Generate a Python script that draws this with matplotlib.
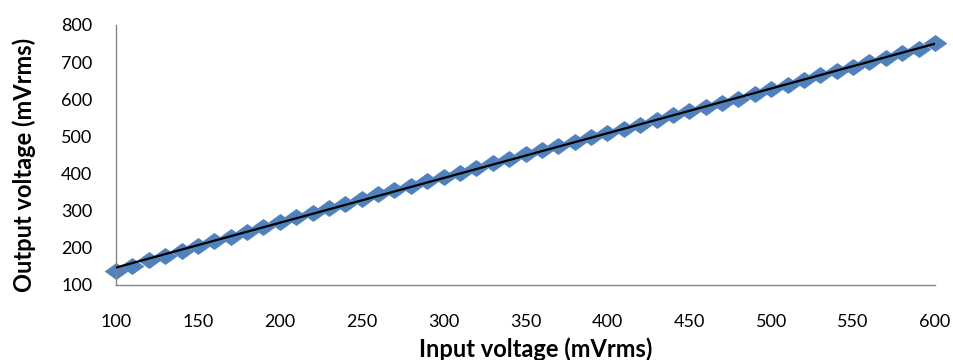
import numpy as np
import matplotlib
matplotlib.use("Agg")
import matplotlib.pyplot as plt
from matplotlib.path import Path

plt.rcParams['font.family'] = ['Lato', 'DejaVu Sans']

# Input amplitude sweep (mVrms) and measured output amplitude (mVrms)
input_mv = [100, 110, 120, 130, 140, 150, 160, 170, 180, 190,
            200, 210, 220, 230, 240, 250, 260, 270, 280, 290,
            300, 310, 320, 330, 340, 350, 360, 370, 380, 390,
            400, 410, 420, 430, 440, 450, 460, 470, 480, 490,
            500, 510, 520, 530, 540, 550, 560, 570, 580, 590,
            600]
output_mv = [136, 151, 165, 178, 191, 204, 217, 229, 242, 255,
             268, 281, 294, 306, 318, 331, 343, 355, 367, 379,
             390, 402, 415, 427, 439, 451, 462, 474, 485, 497,
             508, 519, 531, 543, 556, 567, 579, 590, 601, 614,
             627, 639, 651, 664, 676, 688, 700, 711, 725, 736,
             751]

x_ticks = [100, 150, 200, 250, 300, 350, 400, 450, 500, 550, 600]
y_ticks = [100, 200, 300, 400, 500, 600, 700, 800]

# Slightly flattened diamond marker
diamond = Path([(-1.0, 0.0), (0.0, 0.72), (1.0, 0.0), (0.0, -0.72), (-1.0, 0.0)],
               [Path.MOVETO, Path.LINETO, Path.LINETO, Path.LINETO, Path.CLOSEPOLY])

fig = plt.figure(figsize=(9.54, 3.60), dpi=100)
ax = fig.add_axes([0.1216, 0.2097, 0.8585, 0.7209])

ax.plot(input_mv, output_mv, linestyle='none', marker=diamond, markersize=16,
        markerfacecolor='#4F81BD', markeredgecolor='#4F81BD', markeredgewidth=0.6,
        zorder=2, clip_on=False)

# Linear trend line fitted to the measurements
slope, intercept = np.polyfit(input_mv, output_mv, 1)
xs = np.array([input_mv[0], input_mv[-1]])
ax.plot(xs, slope * xs + intercept, color='black', linewidth=1.6, zorder=3)

ax.set_xlim(100, 600)
ax.set_ylim(100, 800)
ax.set_xticks(x_ticks)
ax.set_yticks(y_ticks)
ax.tick_params(axis='both', length=0, labelsize=13, colors='black')
ax.tick_params(axis='x', pad=21)
ax.tick_params(axis='y', pad=17)

for side in ('top', 'right'):
    ax.spines[side].set_visible(False)
for side in ('left', 'bottom'):
    ax.spines[side].set_color('#868686')
    ax.spines[side].set_linewidth(1.0)

ax.set_xlabel('Input voltage (mVrms)', fontsize=17, fontweight='bold')
ax.set_ylabel('Output voltage (mVrms)', fontsize=17, fontweight='bold')
ax.xaxis.set_label_coords(0.513, -0.2486)
ax.xaxis.label.set_va('center')
ax.yaxis.set_label_coords(-0.1123, 0.46)
ax.yaxis.label.set_va('center')

fig.savefig('out.png', dpi=100)
